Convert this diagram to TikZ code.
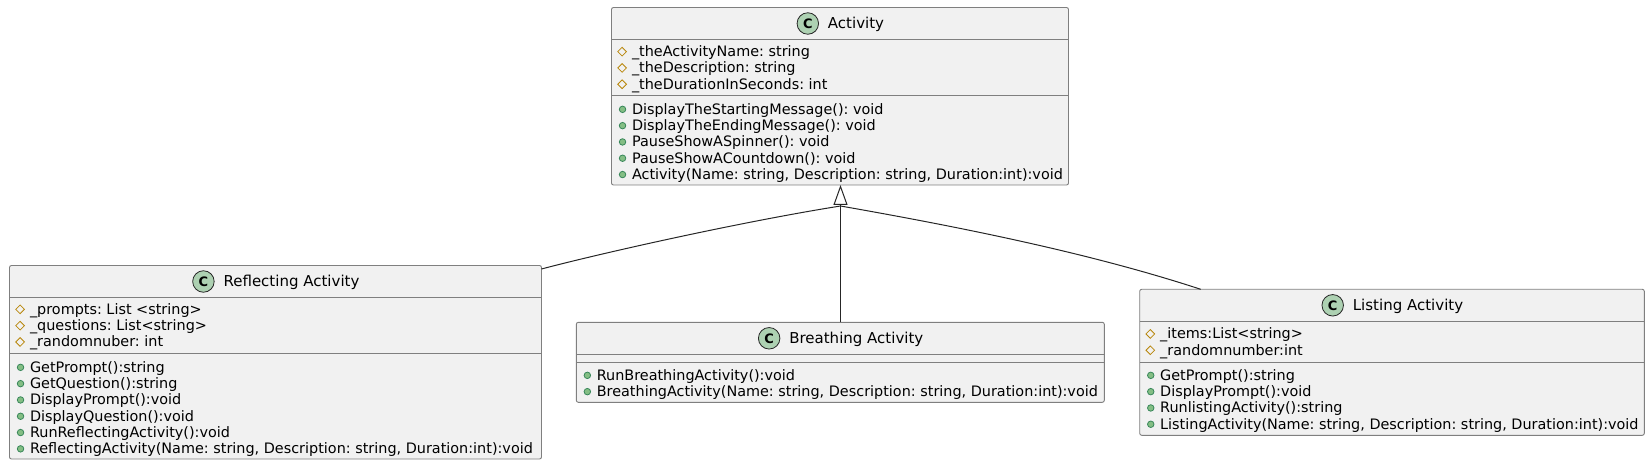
\documentclass[tikz,border=0pt]{standalone}
\usepackage{fontspec}
\setmainfont{DejaVu Sans}
\usetikzlibrary{arrows.meta,positioning,shapes.geometric}
\definecolor{boxfill}{HTML}{F1F1F1}
\definecolor{boxline}{HTML}{7F7F7F}
\definecolor{iconfill}{HTML}{ADD1B2}
\definecolor{fieldicon}{HTML}{B8860B}
\definecolor{methodline}{HTML}{38875A}
\definecolor{methodfill}{HTML}{84BE84}
\tikzset{%
  >={Triangle[open,width=14pt,length=20pt]},
  % Specifications for style of nodes:
        classbox/.style = {rectangle, rounded corners=2pt, draw=boxline,
                           line width=0.9pt, fill=boxfill, anchor=north west,
                           outer sep=0pt, inner sep=0pt},
        divider/.style = {draw=boxline, line width=0.9pt},
       classicon/.style = {circle, draw=black!85, fill=iconfill, line width=0.8pt,
                           minimum size=21.5pt, inner sep=0pt, xshift=-9pt,
                           font=\fontsize{13}{13}\selectfont\bfseries},
       fieldicon/.style = {diamond, draw=fieldicon, aspect=1, line width=0.8pt,
                           minimum size=9pt, inner sep=0pt, xshift=-5pt},
      methodicon/.style = {circle, draw=methodline, fill=methodfill, line width=0.8pt,
                           minimum size=6.5pt, inner sep=0pt, xshift=-5.8pt},
            base/.style = {inner xsep=0pt, inner ysep=1.15pt, outer sep=0pt,
                           text height=12pt, text depth=2pt,
                           font=\fontsize{14.4}{16}\selectfont\frenchspacing},
      classtitle/.style = {base, font=\fontsize{15}{16}\selectfont, label={[classicon]left:C}},
           field/.style = {base, label={[fieldicon]left:}},
          method/.style = {base, label={[methodicon]left:}},
         relation/.style = {line width=1pt, draw=black!85},
}
\begin{document}
\begin{tikzpicture}[x=1pt,y=-1pt,node distance=0pt]
  \useasboundingbox (0,0) rectangle (1650,465);

  % Specification of class boxes
  \node (activity)   [classbox, minimum width=457pt, minimum height=177.5pt] at (611.5,7.5) {};
  \node (reflecting) [classbox, minimum width=532pt, minimum height=193.5pt] at (9.5,265.5) {};
  \node (breathing)  [classbox, minimum width=528pt, minimum height=80pt] at (576.3,322.3) {};
  \node (listing)    [classbox, minimum width=504.6pt, minimum height=146pt] at (1139.7,289.3) {};

  % Compartment lines
  \draw[divider] (activity.north west) ++(0,31.8) -- ++(457,0);
  \draw[divider] (activity.north west) ++(0,88) -- ++(457,0);
  \draw[divider] (reflecting.north west) ++(0,31.8) -- ++(532,0);
  \draw[divider] (reflecting.north west) ++(0,88) -- ++(532,0);
  \draw[divider] (breathing.north west) ++(0,32) -- ++(528,0);
  \draw[divider] (breathing.north west) ++(0,40) -- ++(528,0);
  \draw[divider] (listing.north west) ++(0,32) -- ++(504.6,0);
  \draw[divider] (listing.north west) ++(0,73) -- ++(504.6,0);

  % Activity
  \node (activityTitle) [classtitle, xshift=16pt, yshift=-16pt] at (activity.north) {Activity};
  \node (activityName)  [field, below right=36pt and 20.5pt of activity.north west] {\_theActivityName: string};
  \node (activityDesc)  [field, below right=of activityName.south west] {\_theDescription: string};
  \node (activityDur)   [field, below right=of activityDesc.south west] {\_theDurationInSeconds: int};
  \node (activityStart) [method, below right=93.7pt and 20.5pt of activity.north west] {DisplayTheStartingMessage(): void};
  \node (activityEnd)   [method, below right=of activityStart.south west] {DisplayTheEndingMessage(): void};
  \node (activitySpin)  [method, below right=of activityEnd.south west] {PauseShowASpinner(): void};
  \node (activityCount) [method, below right=of activitySpin.south west] {PauseShowACountdown(): void};
  \node (activityCtor)  [method, below right=of activityCount.south west] {Activity(Name: string, Description: string, Duration:int):void};

  % Reflecting Activity
  \node (reflectingTitle)  [classtitle, xshift=16pt, yshift=-16pt] at (reflecting.north) {Reflecting Activity};
  \node (reflectingPrompts)[field, below right=35.7pt and 20.5pt of reflecting.north west] {\_prompts: List <string>};
  \node (reflectingQuest)  [field, below right=of reflectingPrompts.south west] {\_questions: List<string>};
  \node (reflectingRandom) [field, below right=of reflectingQuest.south west] {\_randomnuber: int};
  \node (reflectingGetP)   [method, below right=93.7pt and 20.5pt of reflecting.north west] {GetPrompt():string};
  \node (reflectingGetQ)   [method, below right=of reflectingGetP.south west] {GetQuestion():string};
  \node (reflectingShowP)  [method, below right=of reflectingGetQ.south west] {DisplayPrompt():void};
  \node (reflectingShowQ)  [method, below right=of reflectingShowP.south west] {DisplayQuestion():void};
  \node (reflectingRun)    [method, below right=of reflectingShowQ.south west] {RunReflectingActivity():void};
  \node (reflectingCtor)   [method, below right=of reflectingRun.south west] {ReflectingActivity(Name: string, Description: string, Duration:int):void};

  % Breathing Activity
  \node (breathingTitle) [classtitle, xshift=16pt, yshift=-16pt] at (breathing.north) {Breathing Activity};
  \node (breathingRun)   [method, below right=44.9pt and 20.5pt of breathing.north west] {RunBreathingActivity():void};
  \node (breathingCtor)  [method, below right=of breathingRun.south west] {BreathingActivity(Name: string, Description: string, Duration:int):void};

  % Listing Activity
  \node (listingTitle)  [classtitle, xshift=16pt, yshift=-16pt] at (listing.north) {Listing Activity};
  \node (listingItems)  [field, below right=36.5pt and 20.5pt of listing.north west] {\_items:List<string>};
  \node (listingRandom) [field, below right=of listingItems.south west] {\_randomnumber:int};
  \node (listingGetP)   [method, below right=77.9pt and 20.5pt of listing.north west] {GetPrompt():string};
  \node (listingShowP)  [method, below right=of listingGetP.south west] {DisplayPrompt():void};
  \node (listingRun)    [method, below right=of listingShowP.south west] {RunlistingActivity():string};
  \node (listingCtor)   [method, below right=of listingRun.south west] {ListingActivity(Name: string, Description: string, Duration:int):void};

  % Specification of lines between nodes specified above
  \coordinate (joint) at (840.5,206);
  \coordinate (reflectingEnd) at (541.5,269);
  \coordinate (listingEnd) at (1200.7,289.3);
  \draw[relation, ->] (breathing.north -| joint) -- (activity.south -| joint);
  \draw[relation] (reflectingEnd) .. controls (600,253.5) and (740,222) .. (joint);
  \draw[relation] (joint) .. controls (960,227) and (1090,253) .. (listingEnd);
\end{tikzpicture}
\end{document}
